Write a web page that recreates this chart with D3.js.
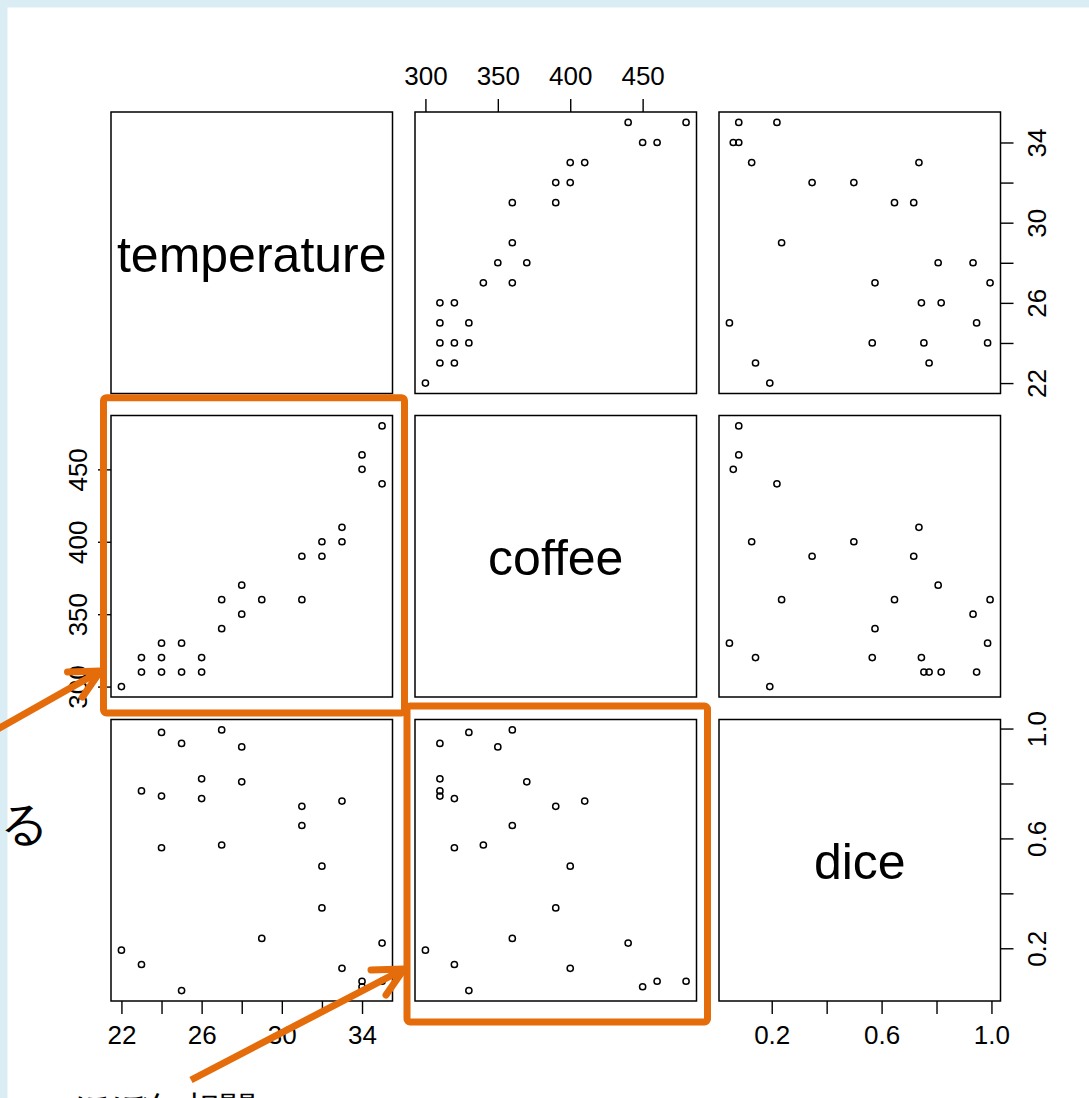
<!DOCTYPE html>
<html><head><meta charset="utf-8">
<script src="https://cdn.jsdelivr.net/npm/d3@7"></script>
<style>
body{margin:0;background:#fff;}
svg{display:block;}
text{font-family:"Liberation Sans",Arial,Helvetica,sans-serif;}
</style>
</head><body>
<svg id="chart" width="1089" height="1098"></svg>
<script>
// ---- data ----
const variables = ["temperature", "coffee", "dice"];
const temperature = [22,23,23,24,24,24,25,25,26,26,27,27,28,28,29,31,31,32,32,33,33,34,34,35,35];
const coffee      = [300,310,320,310,320,330,310,330,310,320,340,360,350,370,360,360,390,390,400,400,410,450,460,440,480];
const dice        = [0.193,0.773,0.141,0.754,0.566,0.986,0.946,0.046,0.817,0.745,0.576,0.995,0.933,0.806,0.236,0.647,0.717,0.347,0.499,0.127,0.736,0.060,0.080,0.219,0.080];
const tempTicks = [22,24,26,28,30,32,34];
const tempLabels = [22,26,30,34];
const coffeeTicks = [300,350,400,450];
const coffeeLabels = [300,350,400,450];
const diceTicks = [0.2,0.4,0.6,0.8,1.0];
const diceLabels = [0.2,0.6,1.0];
const noteLeft = "ある";
const noteBottom = "ほぼ無相関";

// ---- layout ----
const svg = d3.select("#chart");
const colX = [111, 415, 719];
const rowY = [112, 415.5, 719.5];
const size = 281.5;
const orange = "#e46c0a";

svg.append("rect").attr("x",0).attr("y",0).attr("width",1089).attr("height",1098).attr("fill","#fff");
svg.append("rect").attr("x",0).attr("y",0).attr("width",1089).attr("height",7.5).attr("fill","#dbedf4");
svg.append("rect").attr("x",0).attr("y",0).attr("width",7.5).attr("height",1098).attr("fill","#dbedf4");

const values = [temperature, coffee, dice];
const ticks = [tempTicks, coffeeTicks, diceTicks];
const labels = [tempLabels, coffeeLabels, diceLabels];
const fmts = [d3.format("d"), d3.format("d"), d3.format(".1f")];

function padded(arr){
  const [a,b] = d3.extent(arr); const e = (b-a)*0.04; return [a-e, b+e];
}
const xScales = values.map((v,j)=> d3.scaleLinear().domain(padded(v)).range([colX[j], colX[j]+size]));
const yScales = values.map((v,i)=> d3.scaleLinear().domain(padded(v)).range([rowY[i]+size, rowY[i]]));

// panels
for (let i=0;i<3;i++){
  for (let j=0;j<3;j++){
    const g = svg.append("g");
    if (i===j){
      g.append("text").attr("x", colX[j]+size/2).attr("y", rowY[i]+size/2+19)
        .attr("text-anchor","middle").attr("font-size",50).attr("fill","#000").text(variables[i]);
    } else {
      const xs = xScales[j], ys = yScales[i];
      g.selectAll("circle").data(d3.range(values[0].length)).join("circle")
        .attr("cx", k=>xs(values[j][k])).attr("cy", k=>ys(values[i][k]))
        .attr("r", 3.1).attr("fill","none").attr("stroke","#000").attr("stroke-width",1.5);
    }
    g.append("rect").attr("x",colX[j]).attr("y",rowY[i]).attr("width",size).attr("height",size)
      .attr("fill","none").attr("stroke","#000").attr("stroke-width",1.5);
  }
}

// axes
function styleAxis(g, vi){
  g.select(".domain").remove();
  g.selectAll(".tick line").attr("stroke","#000").attr("stroke-width",1.4);
  g.selectAll(".tick text").attr("fill","#000").attr("font-size",26)
    .attr("font-family","'Liberation Sans',Arial,sans-serif");
}
function mkFormat(vi){
  return d => labels[vi].some(l=>Math.abs(l-d)<1e-9) ? fmts[vi](d) : "";
}
// bottom axes: col 0 and col 2
[0,2].forEach(j=>{
  const g = svg.append("g").attr("transform",`translate(0,${rowY[2]+size})`)
    .call(d3.axisBottom(xScales[j]).tickValues(ticks[j]).tickSize(13).tickSizeOuter(0).tickFormat(mkFormat(j)));
  styleAxis(g,j);
  g.selectAll(".tick text").attr("y",43).attr("dy",0);
});
// top axis: col 1
{
  const j=1;
  const g = svg.append("g").attr("transform",`translate(0,${rowY[0]})`)
    .call(d3.axisTop(xScales[j]).tickValues(ticks[j]).tickSize(13).tickSizeOuter(0).tickFormat(mkFormat(j)));
  styleAxis(g,j);
  g.selectAll(".tick text").attr("y",-27).attr("dy",0);
}
// right axes: rows 0 and 2
[0,2].forEach(i=>{
  const g = svg.append("g").attr("transform",`translate(${colX[2]+size},0)`)
    .call(d3.axisRight(yScales[i]).tickValues(ticks[i]).tickSize(13).tickSizeOuter(0).tickFormat(mkFormat(i)));
  styleAxis(g,i);
  g.selectAll(".tick text").attr("x",0).attr("dy",0).attr("text-anchor","middle")
    .attr("transform","translate(45,0) rotate(-90)");
});
// left axis: row 1
{
  const i=1;
  const g = svg.append("g").attr("transform",`translate(${colX[0]},0)`)
    .call(d3.axisLeft(yScales[i]).tickValues(ticks[i]).tickSize(13).tickSizeOuter(0).tickFormat(mkFormat(i)));
  styleAxis(g,i);
  g.selectAll(".tick text").attr("x",0).attr("dy",0).attr("text-anchor","middle")
    .attr("transform","translate(-24,0) rotate(-90)");
}

// ---- annotations ----
svg.append("text").attr("x",49).attr("y",840).attr("text-anchor","end")
  .attr("font-size",48).attr("font-family","'Noto Sans CJK JP',sans-serif").attr("fill","#000").text(noteLeft);
svg.append("text").attr("x",74).attr("y",1122)
  .attr("font-size",36).attr("font-family","'Noto Sans CJK JP',sans-serif").attr("fill","#000").text(noteBottom);

const ann = svg.append("g").attr("fill","none").attr("stroke",orange).attr("stroke-width",7)
  .attr("stroke-linejoin","round");
// boxes around the highlighted panels
const box1 = {x0: colX[0]-7.5, x1: colX[0]+size+12, y0: rowY[1]-17.8, y1: rowY[1]+size+16};
const box2 = {x0: colX[1]-8, x1: colX[1]+size+11, y0: rowY[2]-13.5, y1: rowY[2]+size+21};
[box1, box2].forEach(b=>{
  ann.append("rect").attr("x",b.x0).attr("y",b.y0).attr("width",b.x1-b.x0).attr("height",b.y1-b.y0).attr("rx",3);
});
// arrows
function arrow(x0,y0,x1,y1){
  ann.append("line").attr("x1",x0).attr("y1",y0).attr("x2",x1).attr("y2",y1);
  ann.append("polyline").attr("points",`${x1-33},${y1+1} ${x1},${y1} ${x1-18},${y1+26}`)
    .attr("stroke-linecap","round");
}
arrow(-4, 730, box1.x0-3, rowY[1]+size-26);
arrow(191, 1080, box2.x0-3, rowY[2]+size-32);
</script>
</body></html>
